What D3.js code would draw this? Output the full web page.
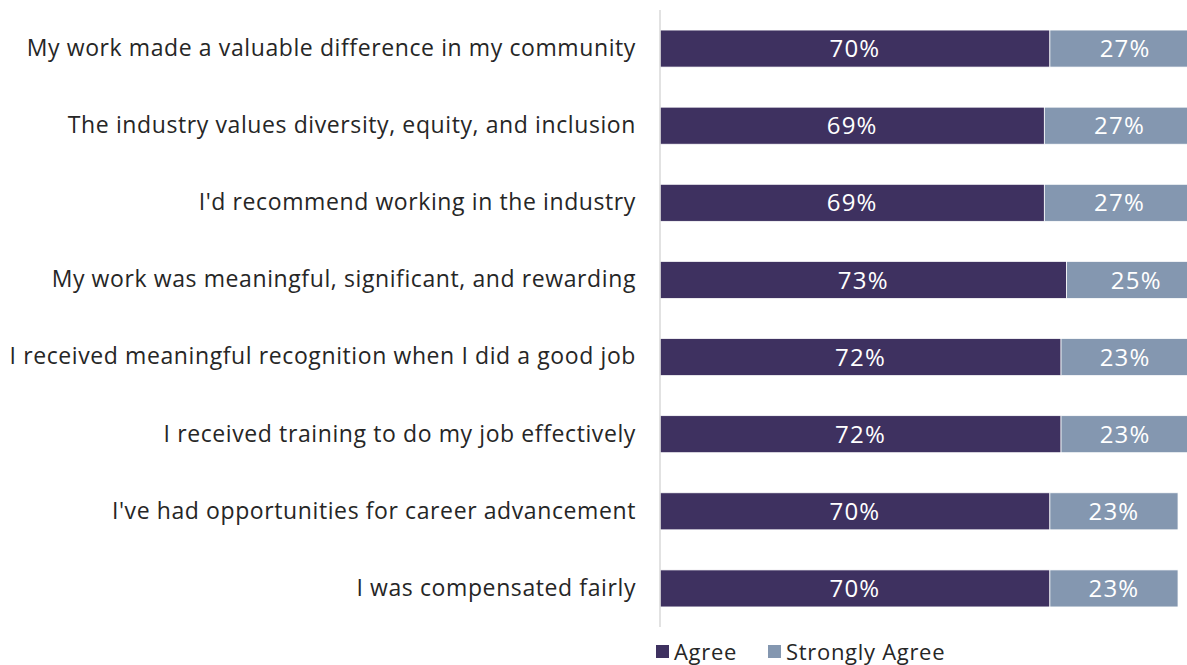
<!DOCTYPE html>
<html>
<head>
<meta charset="utf-8">
<script src="https://cdn.jsdelivr.net/npm/d3@7"></script>
<style>
  html, body { margin: 0; padding: 0; background: #fff; }
  svg { display: block; }
  text { font-family: "Open Sans", "DejaVu Sans", sans-serif; }
</style>
</head>
<body>
<svg id="chart" width="1187" height="665"></svg>
<script>
// Survey statements, top to bottom
const statements = [
  "My work made a valuable difference in my community",
  "The industry values diversity, equity, and inclusion",
  "I'd recommend working in the industry",
  "My work was meaningful, significant, and rewarding",
  "I received meaningful recognition when I did a good job",
  "I received training to do my job effectively",
  "I've had opportunities for career advancement",
  "I was compensated fairly"
];
// Share of respondents (%)
const agree         = [70, 69, 69, 73, 72, 72, 70, 70];
const stronglyAgree = [27, 27, 27, 25, 23, 23, 23, 23];
const seriesNames = ["Agree", "Strongly Agree"];
const seriesColors = ["#3E3160", "#8497B0"];

const svg = d3.select("#chart");
const x0 = 660;

const x = d3.scaleLinear().domain([0, 100]).range([x0, x0 + 557]);
const y = d3.scaleBand()
  .domain(statements)
  .range([10, 627])
  .paddingInner(0.52)
  .paddingOuter(0.26);

const rows = statements.map((s, i) => ({ s, agree: agree[i], strong: stronglyAgree[i] }));
const stack = d3.stack().keys(["agree", "strong"])(rows);

const layer = svg.append("g");
stack.forEach((ser, k) => {
  const g = layer.append("g").attr("fill", seriesColors[k]);
  g.selectAll("rect").data(ser).join("rect")
    .attr("x", d => x(d[0]))
    .attr("width", d => x(d[1]) - x(d[0]))
    .attr("y", d => y(d.data.s))
    .attr("height", y.bandwidth())
    .attr("stroke", "#ffffff")
    .attr("stroke-width", 0.75);
  g.selectAll("text").data(ser).join("text")
    .attr("x", d => (x(d[0]) + x(d[1])) / 2)
    .attr("y", d => y(d.data.s) + y.bandwidth() / 2)
    .attr("dy", "0.36em")
    .attr("text-anchor", "middle")
    .attr("fill", "#ffffff")
    .attr("font-size", 24)
    .attr("letter-spacing", 1.2)
    .text(d => (d[1] - d[0]) + "%");
});

// Category axis on the left
const yAxis = d3.axisLeft(y).tickSize(0).tickPadding(24);
const ag = svg.append("g").attr("transform", `translate(${x0},0)`).call(yAxis);
ag.select(".domain").remove();
ag.selectAll(".tick text")
  .attr("font-size", 23)
  .attr("letter-spacing", 0.6)
  .attr("fill", "#262626")
  .style("font-family", "'Open Sans', 'DejaVu Sans', sans-serif");
svg.append("line")
  .attr("x1", x0).attr("x2", x0)
  .attr("y1", 10).attr("y2", 627)
  .attr("stroke", "#D9D9D9").attr("stroke-width", 1.5);

// Legend
const legend = svg.append("g").attr("transform", "translate(656,652)");
const legendX = [0, 112];
seriesNames.forEach((name, i) => {
  const item = legend.append("g").attr("transform", `translate(${legendX[i]},0)`);
  item.append("rect").attr("x", 0).attr("y", -7).attr("width", 13).attr("height", 13)
    .attr("fill", seriesColors[i]);
  item.append("text").attr("x", 18).attr("y", 0).attr("dy", "0.36em")
    .attr("font-size", 22).attr("letter-spacing", 0.7)
    .attr("fill", "#262626").text(name);
});
</script>
</body>
</html>
